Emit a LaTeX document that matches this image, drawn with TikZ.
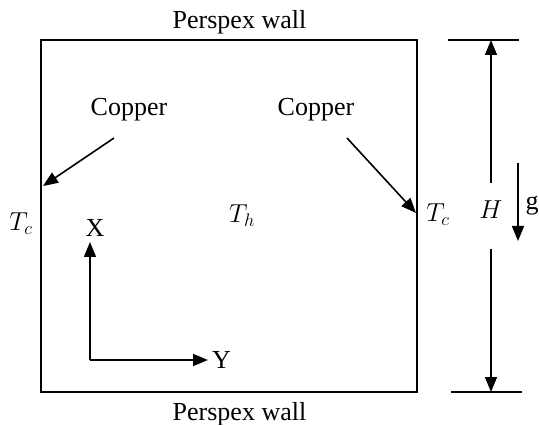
\documentclass[tikz,border=0pt]{standalone}
\usepackage{fix-cm}
\usepackage{fontspec}
\setmainfont{Liberation Serif}
\usetikzlibrary{arrows.meta}
\tikzset{
  lbl/.style={inner sep=0pt, anchor=base, font=\fontsize{26}{30}\selectfont},
  wall/.style={line width=1.7pt},
  arr/.style={line width=1.6pt, -{Triangle[length=15pt,width=12pt]}},
}
\begin{document}
\begin{tikzpicture}[x=1pt,y=-1pt]
\useasboundingbox (0,0) rectangle (539,425);
% box
\coordinate (tl) at (41,40);
\coordinate (br) at (417,392);
\draw[wall] (tl) rectangle (br);
% labels
\node[lbl] (pt) at (239.5,29) {Perspex wall};
\node[lbl] (pb) at (239.5,420) {Perspex wall};
\node[lbl] (cl) at (129,116) {Copper};
\node[lbl] (cr) at (316,116) {Copper};
\node[lbl] (tcl) at (21,231) {$T_c$};
\node[lbl] (th) at (242,223) {$T_h$};
\node[lbl] (tcr) at (438,222) {$T_c$};
\node[lbl] (hh) at (491,219) {$H$};
\node[lbl] (gg) at (532,210) {g};
\node[lbl] (xl) at (95,237) {X};
\node[lbl] (yl) at (221.5,368) {Y};
% copper arrows
\coordinate (cls) at (114,138);
\coordinate (clt) at (43,186);
\coordinate (crs) at (347,138);
\coordinate (crt) at (416,213);
\draw[arr] (cls) -- (clt);
\draw[arr] (crs) -- (crt);
% axes
\coordinate (o) at (90,360);
\coordinate (xt) at (90,242);
\coordinate (yt) at (208,360);
\draw[arr] (o) -- (xt);
\draw[arr] (o) -- (yt);
% H dimension
\coordinate (ht1) at (448,40);
\coordinate (ht2) at (519,40);
\coordinate (hb1) at (451,392);
\coordinate (hb2) at (522,392);
\draw[wall] (ht1) -- (ht2);
\draw[wall] (hb1) -- (hb2);
\coordinate (hu) at (491,183);
\coordinate (hut) at (491,40);
\coordinate (hd) at (491,249);
\coordinate (hdt) at (491,392);
\draw[arr] (hu) -- (hut);
\draw[arr] (hd) -- (hdt);
% gravity
\coordinate (g1) at (518,163);
\coordinate (g2) at (518,241);
\draw[arr] (g1) -- (g2);
\end{tikzpicture}
\end{document}
